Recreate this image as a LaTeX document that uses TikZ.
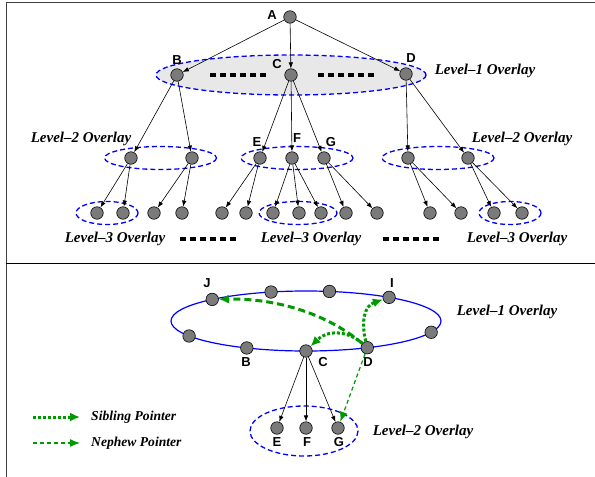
\documentclass[tikz,border=0pt]{standalone}
\usepackage{fontspec}
\setmainfont{Liberation Serif}
\newfontfamily\labfont{Liberation Sans}
\usetikzlibrary{arrows.meta,calc}
\definecolor{nodegray}{gray}{0.48}
\definecolor{sibgreen}{rgb}{0,0.6,0}
\begin{document}
\begin{tikzpicture}[x=1pt,y=-1pt,
  dot/.style={circle,draw=black,line width=0.6pt,fill=nodegray,minimum size=12.5pt,inner sep=0pt},
  lab/.style={font=\labfont\bfseries\fontsize{13}{13}\selectfont,inner sep=0pt},
  ovl/.style={font=\bfseries\itshape\fontsize{15}{15}\selectfont,inner sep=0pt},
  leg/.style={font=\bfseries\itshape\fontsize{13.6}{14}\selectfont,inner sep=0pt,anchor=west},
  edge/.style={line width=0.6pt,-{Latex[length=6pt,width=4.5pt]}},
  ovring/.style={draw=blue,line width=1.3pt,dash pattern=on 5pt off 3pt},
  gapdash/.style={line width=4pt,dash pattern=on 6pt off 4pt},
  sibdot/.style={draw=sibgreen,line width=3pt,dash pattern=on 3pt off 2pt,-{Latex[length=10pt,width=9pt]}},
  sibdash/.style={draw=sibgreen,line width=3pt,dash pattern=on 7pt off 4pt,-{Latex[length=10pt,width=9pt]}},
  neph/.style={draw=sibgreen,line width=1.2pt,dash pattern=on 4pt off 3pt,-{Latex[length=10pt,width=8pt]}},
  panel/.style={line width=1pt}
]
\useasboundingbox (0,0) rectangle (595,477);
% frame
\coordinate (fbl) at (6,477);
\coordinate (ftl) at (6,2);
\coordinate (ftr) at (595,2);
\coordinate (fml) at (6,263);
\coordinate (fmr) at (595,263);
\draw[panel,draw=black!75] (fbl) -- (ftl) -- (ftr);
\draw[panel] (fml) -- (fmr);

% ===== top panel =====
\fill[gray!18] (291,75) ellipse [x radius=135, y radius=20];
\draw[ovring] (291,75) ellipse [x radius=135, y radius=20];
\draw[ovring] (160.5,158) ellipse [x radius=56, y radius=11.5];
\draw[ovring] (297,158) ellipse [x radius=56, y radius=11.5];
\draw[ovring] (438,158) ellipse [x radius=56, y radius=11.5];
\draw[ovring] (107,213) ellipse [x radius=31, y radius=11.5];
\draw[ovring] (298,213) ellipse [x radius=39, y radius=11.5];
\draw[ovring] (510,213) ellipse [x radius=31, y radius=11.5];

\node[dot] (A) at (290,17) {};
\node[dot] (B) at (177,75) {};
\node[dot] (C) at (291,75) {};
\node[dot] (D) at (406,74) {};

\node[dot] (p1) at (131,158) {};
\node[dot] (p2) at (192,158) {};
\node[dot] (E) at (260,158) {};
\node[dot] (F) at (292,158) {};
\node[dot] (G) at (324,158) {};
\node[dot] (p6) at (408,158) {};
\node[dot] (p7) at (468,158) {};

\foreach \i/\x in {1/97,2/123,3/154,4/182,5/222,6/246,7/273,8/299,9/321,10/346,11/377,12/430,13/461,14/494,15/522}
  \node[dot] (q\i) at (\x,213) {};

\draw[edge] (A) -- (B);
\draw[edge] (A) -- (C);
\draw[edge] (A) -- (D);
\draw[edge] (B) -- (p1);
\draw[edge] (B) -- (p2);
\draw[edge] (C) -- (E);
\draw[edge] (C) -- (F);
\draw[edge] (C) -- (G);
\draw[edge] (D) -- (p6);
\draw[edge] (D) -- (p7);
\draw[edge] (p1) -- (q1);
\draw[edge] (p1) -- (q2);
\draw[edge] (p2) -- (q3);
\draw[edge] (p2) -- (q4);
\draw[edge] (E) -- (q5);
\draw[edge] (E) -- (q6);
\draw[edge] (F) -- (q7);
\draw[edge] (F) -- (q8);
\draw[edge] (F) -- (q9);
\draw[edge] (G) -- (q10);
\draw[edge] (G) -- (q11);
\draw[edge] (p6) -- (q12);
\draw[edge] (p6) -- (q13);
\draw[edge] (p7) -- (q14);
\draw[edge] (p7) -- (q15);

\coordinate (g1a) at (210,75); \coordinate (g1b) at (266,75);
\coordinate (g2a) at (318,75); \coordinate (g2b) at (374,75);
\coordinate (g3a) at (180,239); \coordinate (g3b) at (236,239);
\coordinate (g4a) at (383,239); \coordinate (g4b) at (439,239);
\draw[gapdash] (g1a) -- (g1b);
\draw[gapdash] (g2a) -- (g2b);
\draw[gapdash] (g3a) -- (g3b);
\draw[gapdash] (g4a) -- (g4b);

\node[lab] (tA) at (272,15) {A};
\node[lab] (tB) at (177,60) {B};
\node[lab] (tC) at (277,64) {C};
\node[lab] (tD) at (411,58) {D};
\node[lab] (tE) at (257,142) {E};
\node[lab] (tF) at (297,138) {F};
\node[lab] (tG) at (331,142) {G};

\node[ovl] (o1) at (485,71) {Level–1 Overlay};
\node[ovl] (o2a) at (81,139) {Level–2 Overlay};
\node[ovl] (o2b) at (522,139) {Level–2 Overlay};
\node[ovl] (o3a) at (115,239) {Level–3 Overlay};
\node[ovl] (o3b) at (311,239) {Level–3 Overlay};
\node[ovl] (o3c) at (517,239) {Level–3 Overlay};

% ===== bottom panel =====
\coordinate (ring) at (306,321);
\draw[blue,line width=1.2pt] (ring) ellipse [x radius=135, y radius=30];
\draw[ovring] (304,431) ellipse [x radius=54, y radius=25];

\node[dot] (bJ) at ($(ring)+(226:135 and 30)$) {};
\node[dot] (bn2) at ($(ring)+(255:135 and 30)$) {};
\node[dot] (bn3) at ($(ring)+(280:135 and 30)$) {};
\node[dot] (bI) at ($(ring)+(308:135 and 30)$) {};
\node[dot] (bR) at ($(ring)+(22:135 and 30)$) {};
\node[dot] (bD) at ($(ring)+(63:135 and 30)$) {};
\node[dot] (bC) at ($(ring)+(90:135 and 30)$) {};
\node[dot] (bB) at ($(ring)+(116:135 and 30)$) {};
\node[dot] (bL) at ($(ring)+(150:135 and 30)$) {};

\node[dot] (bE) at (277,428) {};
\node[dot] (bF) at (306,428) {};
\node[dot] (bG) at (338,428) {};

\draw[edge] (bC) -- (bE);
\draw[edge] (bC) -- (bF);
\draw[edge] (bC) -- (bG);

\draw[sibdash] (bD) .. controls (330,316) and (280,298) .. (bJ);
\draw[sibdot] (bD) .. controls (361,322) and (364,306) .. (bI);
\draw[sibdot] (bD) .. controls (347,330) and (327,330) .. (bC);
\draw[neph] (bD) -- (bG);

\node[lab] (tbJ) at (207,283) {J};
\node[lab] (tbI) at (392,283) {I};
\node[lab] (tbB) at (246,362) {B};
\node[lab] (tbC) at (323,362) {C};
\node[lab] (tbD) at (368,362) {D};
\node[lab] (tbE) at (277,442) {E};
\node[lab] (tbF) at (307,442) {F};
\node[lab] (tbG) at (339,442) {G};

\node[ovl] (ob1) at (507,312) {Level–1 Overlay};
\node[ovl] (ob2) at (423,432) {Level–2 Overlay};

% legend
\coordinate (l1a) at (33,417); \coordinate (l1b) at (80,417);
\coordinate (l2a) at (33,443); \coordinate (l2b) at (80,443);
\draw[sibdot] (l1a) -- (l1b);
\draw[neph] (l2a) -- (l2b);
\node[leg] (tl1) at (91,417) {Sibling Pointer};
\node[leg] (tl2) at (91,443) {Nephew Pointer};
\end{tikzpicture}
\end{document}
